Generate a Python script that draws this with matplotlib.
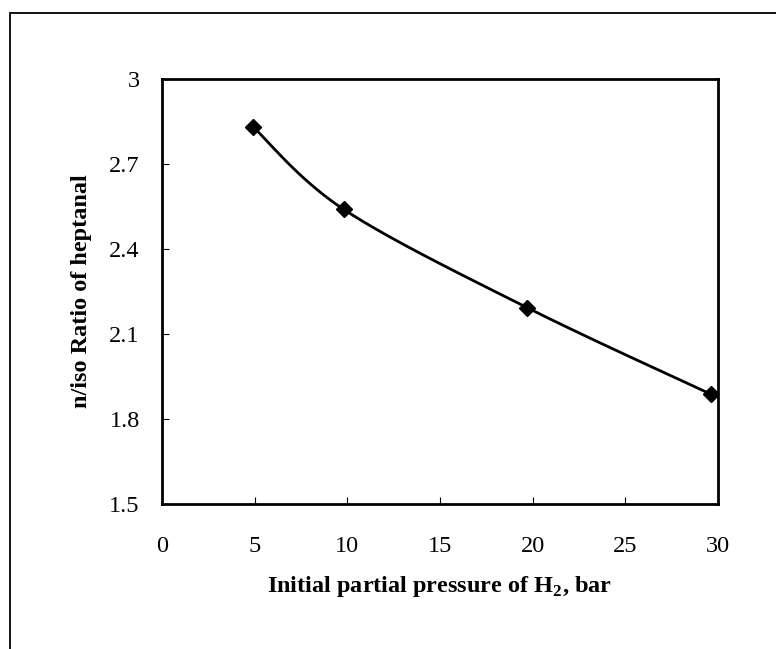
import numpy as np
import matplotlib
matplotlib.use("Agg")
import matplotlib.pyplot as plt
from matplotlib.patches import Rectangle
from matplotlib.ticker import FuncFormatter

plt.rcParams["font.family"] = ["Liberation Serif", "DejaVu Serif"]
plt.rcParams["mathtext.fontset"] = "custom"
plt.rcParams["mathtext.rm"] = "Liberation Serif"
plt.rcParams["mathtext.bf"] = "Liberation Serif:bold"

# data
pressure = [4.9, 9.8, 19.7, 29.6]
ratio = [2.832, 2.540, 2.193, 1.888]

x_ticks = [0, 5, 10, 15, 20, 25, 30]
y_ticks = [1.5, 1.8, 2.1, 2.4, 2.7, 3.0]


def smooth_line(xs, ys, n=60):
    # excel style smoothed line: cubic bezier, catmull-rom control points
    p = np.column_stack([xs, ys]).astype(float)
    p = np.vstack([p[0], p, p[-1]])
    out = []
    t = np.linspace(0, 1, n)[:, None]
    for i in range(1, len(p) - 2):
        p0, p1 = p[i], p[i + 1]
        c1 = p0 + (p[i + 1] - p[i - 1]) / 6
        c2 = p1 - (p[i + 2] - p[i]) / 6
        seg = ((1 - t) ** 3) * p0 + 3 * ((1 - t) ** 2) * t * c1 \
            + 3 * (1 - t) * t ** 2 * c2 + t ** 3 * p1
        out.append(seg)
    out = np.vstack(out)
    return out[:, 0], out[:, 1]


fig = plt.figure(figsize=(7.76, 6.49), dpi=100)
W, H = 776, 649

# outer chart frame (runs off the right/bottom edge)
fig.patches.append(Rectangle((9.5 / W, -0.05), 1.2, 1 - 13 / H + 0.05,
                             transform=fig.transFigure, fill=False,
                             edgecolor="black", linewidth=1.3))

ax = fig.add_axes([162 / W, 1 - 504 / H, (718 - 162) / W, (504 - 79) / H])

sx, sy = smooth_line(pressure, ratio)
ax.plot(sx, sy, color="black", linewidth=2, zorder=2)
ax.plot(pressure, ratio, linestyle="none", marker="D", markersize=8,
        color="black", zorder=3)

ax.set_xlim(0, 30)
ax.set_ylim(1.5, 3.0)
ax.set_xticks(x_ticks)
ax.set_yticks(y_ticks)
ax.yaxis.set_major_formatter(FuncFormatter(lambda v, p: "%g" % v))

for s in ax.spines.values():
    s.set_linewidth(2)
ax.tick_params(direction="in", length=5, width=0.8, labelsize=17.5)
ax.tick_params(axis="x", pad=23)
ax.tick_params(axis="y", pad=16)

ax.set_xlabel("Initial partial pressure of H$_\\mathbf{2}$, bar",
              fontsize=17.5, fontweight="bold", labelpad=12)
ax.set_ylabel("n/iso Ratio of heptanal", fontsize=17.5, fontweight="bold",
              labelpad=12)

fig.savefig("out.png", dpi=100, facecolor="white")
